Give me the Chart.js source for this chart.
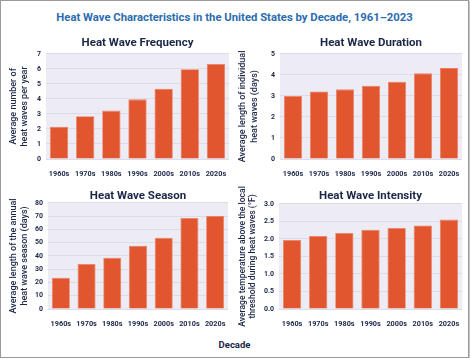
<!DOCTYPE html>
<html>
<head>
<meta charset="utf-8">
<script src="https://cdn.jsdelivr.net/npm/chart.js@4.4.1/dist/chart.umd.min.js"></script>
<style>
  html, body { margin: 0; padding: 0; background: #fff; }
  #frame {
    position: relative; width: 467px; height: 356px;
    border: 1px solid #9a9a9a; box-shadow: 1px 1px 0 #c4c4c4;
    overflow: hidden; font-family: Roboto, sans-serif;
  }
  #mainTitle {
    position: absolute; left: 0; top: 10px; width: 467px; text-align: center;
    color: #2b6cb0; font-weight: bold; font-size: 11.3px;
  }
  #xTitle {
    position: absolute; left: 0; top: 338px; width: 467px; text-align: center;
    color: #1c2748; font-weight: bold; font-size: 9.5px;
  }
  canvas { position: absolute; }
</style>
</head>
<body>
<div id="frame">
  <div id="mainTitle">Heat Wave Characteristics in the United States by Decade, 1961–2023</div>
  <canvas id="c1" width="235" height="150" style="left:-1px;top:27px"></canvas>
  <canvas id="c2" width="235" height="150" style="left:234px;top:27px"></canvas>
  <canvas id="c3" width="235" height="148" style="left:-1px;top:179px"></canvas>
  <canvas id="c4" width="235" height="148" style="left:234px;top:179px"></canvas>
  <div id="xTitle">Decade</div>
</div>
<script>
const decades = ['1960s', '1970s', '1980s', '1990s', '2000s', '2010s', '2020s'];

const frequency = [2.15, 2.85, 3.22, 3.97, 4.68, 5.98, 6.32];
const duration = [3.0, 3.21, 3.31, 3.48, 3.67, 4.07, 4.32];
const season = [23.5, 33.9, 38.7, 47.6, 53.7, 68.6, 70.1];
const intensity = [1.97, 2.08, 2.17, 2.26, 2.31, 2.38, 2.55];

const NAVY = '#1c2748';
const BAR = '#e1552f';
const FONT = 'Roboto';

const plotBg = {
    id: 'plotBg',
    beforeDraw(chart) {
        const a = chart.chartArea;
        chart.ctx.save();
        chart.ctx.fillStyle = '#edecf4';
        chart.ctx.fillRect(a.left, a.top, a.right - a.left, a.bottom - a.top);
        chart.ctx.restore();
    }
};

function makeChart(id, cfg) {
    return new Chart(document.getElementById(id), {
        type: 'bar',
        data: {
            labels: decades,
            datasets: [{
                data: cfg.values,
                backgroundColor: BAR,
                borderColor: '#ec8062',
                borderWidth: 0.8,
                barPercentage: 0.7,
                categoryPercentage: 1.0
            }]
        },
        plugins: [plotBg],
        options: {
            responsive: false,
            animation: false,
            layout: { padding: cfg.pad },
            plugins: {
                legend: { display: false },
                tooltip: { enabled: false },
                title: {
                    display: true,
                    fullSize: false,
                    text: cfg.title,
                    color: NAVY,
                    font: { family: FONT, size: 11.5, weight: 'bold', lineHeight: 1.2 },
                    padding: cfg.titlePad
                }
            },
            scales: {
                x: {
                    grid: { display: false },
                    border: { display: false },
                    ticks: {
                        color: NAVY, padding: 3, maxRotation: 0,
                        font: { family: FONT, size: 7.3, weight: 'bold' }
                    },
                    afterFit(s) { s.height = 19; }
                },
                y: {
                    min: 0,
                    max: cfg.max,
                    grid: { color: '#dcdbe7', drawTicks: false, lineWidth: 1 },
                    border: { display: false },
                    ticks: {
                        color: NAVY, padding: 5, stepSize: cfg.step,
                        font: { family: FONT, size: 7, weight: 'bold' },
                        callback: cfg.fmt
                    },
                    title: {
                        display: true,
                        text: cfg.yTitle,
                        color: NAVY,
                        font: { family: FONT, size: cfg.yFont, weight: '500', lineHeight: cfg.yLine },
                        padding: { top: cfg.yTitleTop, bottom: 0 }
                    },
                    afterFit(s) { s.width = cfg.yWidth; }
                }
            }
        }
    });
}

makeChart('c1', {
    values: frequency, title: 'Heat Wave Frequency', max: 7, step: 1,
    fmt: v => v,
    yTitle: ['Average number of', 'heat waves per year'],
    yFont: 9, yLine: 1.15, yTitleTop: 9, yWidth: 46,
    pad: { left: 0, right: 6, top: 0, bottom: 0 },
    titlePad: { top: 8, bottom: 4 }
});

makeChart('c2', {
    values: duration, title: 'Heat Wave Duration', max: 5, step: 1,
    fmt: v => v,
    yTitle: ['Average length of individual', 'heat waves (days)'],
    yFont: 9, yLine: 1.3, yTitleTop: 2, yWidth: 45,
    pad: { left: 0, right: 8, top: 0, bottom: 0 },
    titlePad: { top: 8, bottom: 4 }
});

makeChart('c3', {
    values: season, title: 'Heat Wave Season', max: 80, step: 10,
    fmt: v => v,
    yTitle: ['Average length of the annual', 'heat wave season (days)'],
    yFont: 9, yLine: 1.15, yTitleTop: 9, yWidth: 48,
    pad: { left: 0, right: 7, top: 0, bottom: 0 },
    titlePad: { top: 9, bottom: 0 }
});

makeChart('c4', {
    values: intensity, title: 'Heat Wave Intensity', max: 3, step: 0.5,
    fmt: v => v.toFixed(1),
    yTitle: ['Average temperature above the local', 'threshold during heat waves (°F)'],
    yFont: 8.6, yLine: 1.25, yTitleTop: 2, yWidth: 44,
    pad: { left: 0, right: 8, top: 0, bottom: 0 },
    titlePad: { top: 9, bottom: 1 }
});
</script>
</body>
</html>
